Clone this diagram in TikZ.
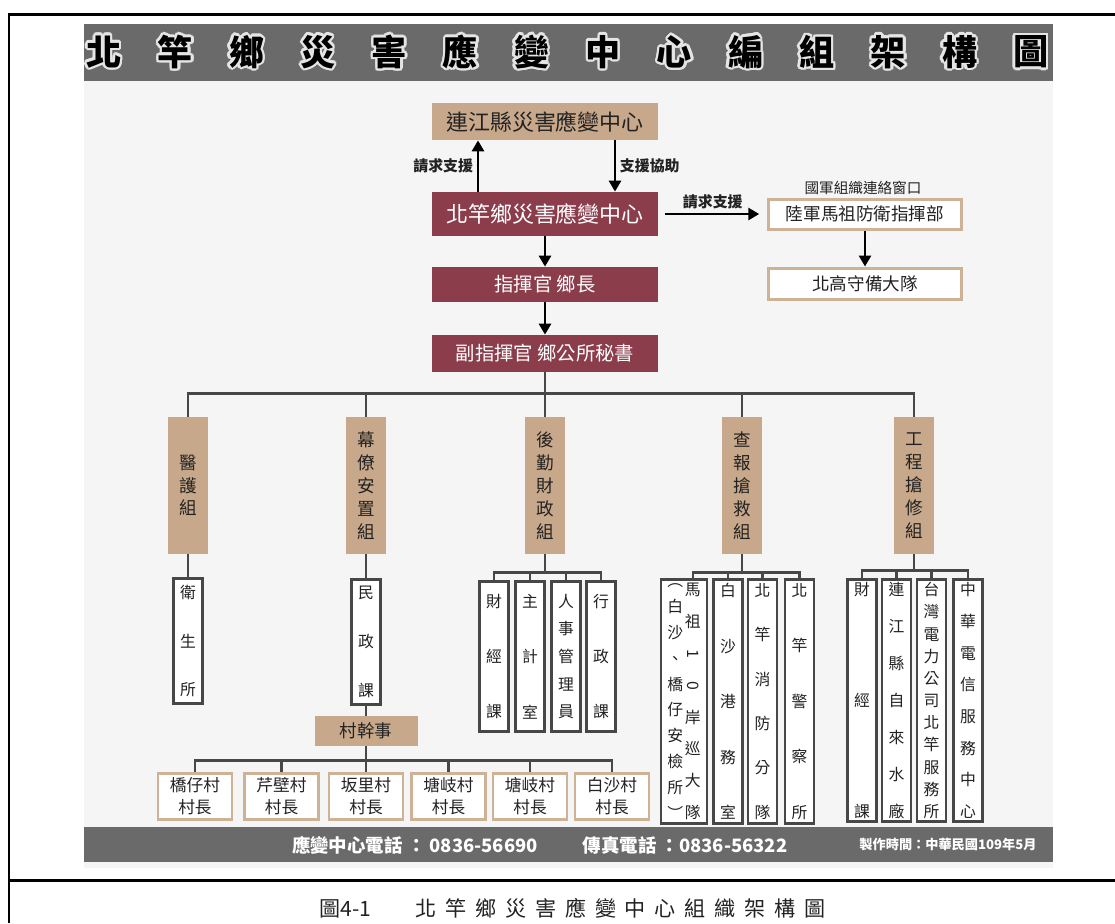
\documentclass[tikz,border=0pt]{standalone}
\usepackage{fontspec}
\usepackage{graphicx}
\usepackage{contour}
\usetikzlibrary{arrows.meta,positioning}

\newfontfamily\cjk{Noto Sans CJK TC}
\contourlength{1.4pt}
\contournumber{16}

\definecolor{sandfill}{HTML}{C8A88A}
\definecolor{sandline}{HTML}{CDB296}
\definecolor{wine}{HTML}{8B3D4C}
\definecolor{barcol}{HTML}{6A6A6A}
\definecolor{sheet}{HTML}{F5F5F5}
\definecolor{edge}{HTML}{474747}
\definecolor{ink}{HTML}{222222}

\newcommand{\nx}{\par\vfill}
\newcommand{\vcol}[2]{\parbox[c][#1][s]{1.1em}{\centering #2}}

\tikzset{
  hq/.style={minimum width=4.52cm, inner sep=0pt, text=white, fill=wine,
    font=\cjk\fontsize{11}{11}\selectfont},
  liaison/.style={draw=sandline, line width=1.7pt, fill=white, minimum width=3.85cm,
    minimum height=0.6cm, inner sep=0pt, text=ink, font=\cjk\fontsize{10}{10}\selectfont},
  tag/.style={text=ink, inner sep=2pt, font=\cjk\bfseries\fontsize{8.5}{8.5}\selectfont},
  group/.style={fill=sandfill, minimum width=0.8cm, minimum height=2.74cm, align=center,
    text=ink, font=\cjk\fontsize{10}{13}\selectfont},
  sub/.style={draw=edge, line width=1.6pt, fill=white, minimum width=0.58cm, inner sep=0pt,
    text=ink, font=\cjk\fontsize{9}{11}\selectfont},
  village/.style={draw=sandline, line width=1.7pt, fill=white, minimum width=1.48cm,
    minimum height=0.92cm, inner sep=0pt, align=center, text=ink,
    font=\cjk\fontsize{9.5}{12.5}\selectfont},
  link/.style={draw=edge, line width=1.7pt},
  arrow/.style={draw=black, line width=1.6pt, -{Triangle[length=0.22cm,width=0.24cm]}},
  foot/.style={text=white, font=\cjk\bfseries\fontsize{10.5}{10.5}\selectfont}
}

\begin{document}
\begin{tikzpicture}[font=\cjk]
\useasboundingbox (0,0) rectangle (22.3,-18.46);
\fill[white] (0,0) rectangle (22.3,-18.46);

% frame
\draw[line width=1.7pt] (22.3,-0.28) -- (0.18,-0.28) -- (0.18,-18.46);
\draw[line width=1.7pt] (0.18,-17.6) -- (22.3,-17.6);

% sheet, title bar, footer bar
\fill[sheet] (1.68,-0.48) rectangle (21.06,-17.36);
\fill[barcol] (1.68,-0.48) rectangle (21.06,-1.62);
\fill[barcol] (1.68,-16.54) rectangle (21.06,-17.24);

\foreach \c [count=\i from 0] in {北,竿,鄉,災,害,應,變,中,心,編,組,架,構,圖}
  \node[font=\cjk\bfseries\fontsize{20}{20}\selectfont] (t\i) at ({2.08+1.426*\i},-1.06)
    {\contour{white!80!gray}{\c}};

% command chain
\node[hq, fill=sandfill, text=ink, minimum height=0.74cm,
  font=\cjk\fontsize{12.5}{12.5}\selectfont] (county) at (10.9,-2.43) {連江縣災害應變中心};
\node[hq, minimum height=0.88cm, font=\cjk\fontsize{12.5}{12.5}\selectfont]
  (hq) at (10.9,-4.28) {北竿鄉災害應變中心};
\node[hq, minimum height=0.7cm] (chief) at (10.9,-5.69) {指揮官\ 鄉長};
\node[hq, minimum height=0.74cm] (deputy) at (10.9,-7.07) {副指揮官\ 鄉公所秘書};

\draw[arrow] ([xshift=-1.34cm]hq.north) -- node[left, tag] {請求支援} ([xshift=-1.34cm]county.south);
\draw[arrow] ([xshift=1.4cm]county.south) -- node[right, tag] {支援協助} ([xshift=1.4cm]hq.north);
\draw[arrow] (hq.south) -- (chief.north);
\draw[arrow] (chief.south) -- (deputy.north);

% army liaison
\node[liaison] (army) at (17.3,-4.28) {陸軍馬祖防衛指揮部};
\node[liaison, minimum height=0.62cm] (guard) at (17.3,-5.67) {北高守備大隊};
\node[text=ink, font=\cjk\fontsize{8.3}{8.3}\selectfont] (window) at (17.26,-3.76) {國軍組織連絡窗口};
\draw[arrow, shorten <=0.14cm, shorten >=0.16cm] (hq.east) -- node[above, tag] {請求支援} (army.west);
\draw[arrow] (army.south) -- (guard.north);

% groups
\coordinate (bus) at (10.9,-7.86);
\foreach \g/\x/\t in {med/3.76/{醫\\護\\組}, staff/7.32/{幕\\僚\\安\\置\\組},
    logi/10.9/{後\\勤\\財\\政\\組}, rescue/14.84/{查\\報\\搶\\救\\組},
    works/18.28/{工\\程\\搶\\修\\組}}{
  \node[group] (\g) at (\x,-9.71) {\t};
  \draw[link] (deputy.south) -- (bus) -| (\g.north);
}

% medical and staff
\node[sub, minimum height=2.5cm] (clinic) at (3.76,-12.82) {\vcol{2.2cm}{衛\nx 生\nx 所}};
\draw[link] (med.south) -- (clinic.north);
\node[sub, minimum height=2.5cm] (civil) at (7.32,-12.84) {\vcol{2.2cm}{民\nx 政\nx 課}};
\draw[link] (staff.south) -- (civil.north);
\node[fill=sandfill, minimum width=2.06cm, minimum height=0.6cm, inner sep=0pt, text=ink,
  font=\cjk\fontsize{10}{10}\selectfont] (clerk) at (7.32,-14.62) {村幹事};
\draw[link] (civil.south) -- (clerk.north);

\coordinate (vbus) at (7.32,-15.2);
\foreach \v/\x/\n in {v1/3.9/橋仔村, v2/5.63/芹壁村, v3/7.32/坂里村,
    v4/8.97/塘岐村, v5/10.6/塘岐村, v6/12.24/白沙村}{
  \node[village] (\v) at (\x,-15.93) {\n\\村長};
  \draw[link] (clerk.south) -- (vbus) -| (\v.north);
}

% logistics
\foreach \s/\x/\t in {fin/9.88/{財\nx 經\nx 課}, acct/10.6/{主\nx 計\nx 室},
    hr/11.32/{人\nx 事\nx 管\nx 理\nx 員}, admin/12.02/{行\nx 政\nx 課}}{
  \node[sub, minimum height=3.0cm] (\s) at (\x,-13.13) {\vcol{2.48cm}{\t}};
  \draw[link] (logi.south) -- ++(0,-0.36) -| (\s.north);
}

% rescue
\node[sub, minimum width=0.92cm, minimum height=4.88cm] (coast) at (13.68,-14.03)
  {\vcol{4.7cm}{︵\nx 白\nx 沙\nx 、\nx 橋\nx 仔\nx 安\nx 檢\nx 所\nx ︶}%
   \vcol{4.7cm}{馬\nx 祖\nx \rotatebox[origin=c]{-90}{1}\nx \rotatebox[origin=c]{-90}{0}\nx 岸\nx 巡\nx 大\nx 隊}};
\draw[link] (rescue.south) -- ++(0,-0.36) -| ([xshift=0.18cm]coast.north);
\foreach \s/\x/\t in {harbor/14.56/{白\nx 沙\nx 港\nx 務\nx 室},
    fire/15.25/{北\nx 竿\nx 消\nx 防\nx 分\nx 隊}, police/15.99/{北\nx 竿\nx 警\nx 察\nx 所}}{
  \node[sub, minimum height=4.88cm] (\s) at (\x,-14.03) {\vcol{4.7cm}{\t}};
  \draw[link] (rescue.south) -- ++(0,-0.36) -| (\s.north);
}

% engineering
\foreach \s/\x/\t in {fin2/17.24/{財\nx 經\nx 課},
    water/17.93/{連\nx 江\nx 縣\nx 自\nx 來\nx 水\nx 廠},
    power/18.63/{台\nx 灣\nx 電\nx 力\nx 公\nx 司\nx 北\nx 竿\nx 服\nx 務\nx 所},
    tele/19.36/{中\nx 華\nx 電\nx 信\nx 服\nx 務\nx 中\nx 心}}{
  \node[sub, minimum height=4.84cm] (\s) at (\x,-14.01) {\vcol{4.7cm}{\t}};
  \draw[link] (works.south) -- ++(0,-0.32) -| (\s.north);
}

% footer and caption
\node[foot] (phone) at (8.3,-16.9) {應變中心電話 ：\ 0836-56690};
\node[foot] (fax) at (13.7,-16.9) {傳真電話 ：0836-56322};
\node[foot, font=\cjk\bfseries\fontsize{7.5}{7.5}\selectfont] (made) at (18.96,-16.9) {製作時間：中華民國109年5月};
\node[text=ink, font=\cjk\fontsize{12}{12}\selectfont] (caption) at (11.45,-18.16)
  {圖4-1\hspace{2.1em}{\addfontfeature{LetterSpace=42}北竿鄉災害應變中心組織架構圖}};
\end{tikzpicture}
\end{document}
